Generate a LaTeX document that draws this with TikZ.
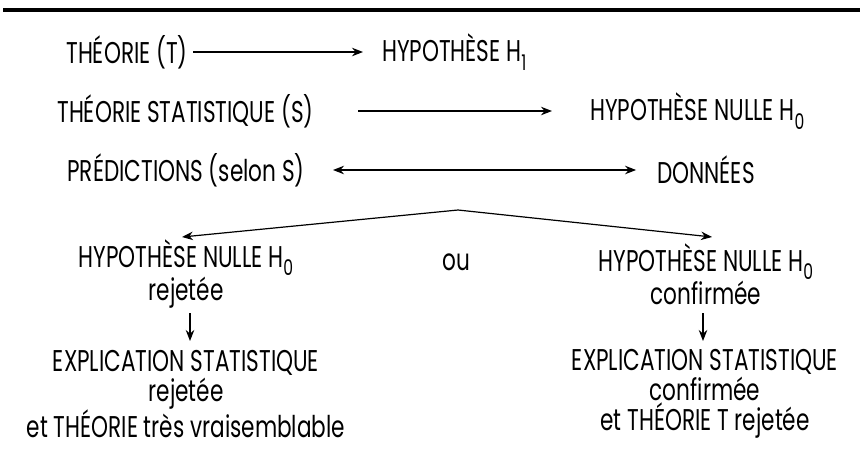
\documentclass[tikz,border=0pt]{standalone}
\usepackage{fontspec}
\setmainfont[FakeStretch=0.72]{Poppins}
\usetikzlibrary{arrows.meta}
\newcommand\lowidx[1]{\raisebox{-0.28em}{\scalebox{0.72}{#1}}}
\begin{document}
\begin{tikzpicture}[x=1pt,y=-1pt,
  lbl/.style={inner sep=0pt,align=center,font=\fontsize{30}{30}\selectfont},
  pair/.style={lbl,font=\fontsize{30}{28}\selectfont},
  link/.style={line width=1.2pt,-{Stealth[length=11pt,width=8.5pt]}},
  link2/.style={line width=1.2pt,{Stealth[length=11pt,width=8.5pt]}-{Stealth[length=11pt,width=8.5pt]}}]
\useasboundingbox (0,0) rectangle (860,456);
% rule along the top
\draw[line width=3.5pt] (3,10) -- (860,10);

% first three rows
\node[lbl] (t)  at (127,52) {THÉORIE (T)};
\node[lbl,anchor=west] (h1) at (382,52) {HYPOTHÈSE H\lowidx{1}};
\node[lbl] (s)  at (185.5,111) {THÉORIE STATISTIQUE (S)};
\node[lbl,anchor=west] (h0) at (590,111) {HYPOTHÈSE NULLE H\lowidx{0}};
\node[lbl] (p)  at (186,170) {PRÉDICTIONS (selon S)};
\node[lbl] (d)  at (706,170) {DONNÉES};

\draw[link] (t.east -| 193,0) -- ([xshift=-19pt]h1.west);
\draw[link] (s.east -| 358,0) -- ([xshift=-38pt]h0.west);
\draw[link2] (p.east -| 333,0) -- ([xshift=-21pt]d.west);

% the two outcomes
\coordinate (fork) at (458,210);
\coordinate (tipl) at (182,237);
\coordinate (tipr) at (712,237);
\draw[link] (fork) -- (tipl);
\draw[link] (fork) -- (tipr);

\node[pair] (rej) at (186,274) {HYPOTHÈSE NULLE H\lowidx{0}\\rejetée};
\node[lbl] (ou)  at (456,262) {ou};
\node[pair] (conf) at (706,274) {HYPOTHÈSE NULLE H\lowidx{0}\\confirmée};

\node[lbl] (er) at (186,394) {EXPLICATION STATISTIQUE\\rejetée\\et THÉORIE très vraisemblable};
\node[lbl] (ec) at (705,394) {EXPLICATION STATISTIQUE\\confirmée\\et THÉORIE T rejetée};

% consequences
\coordinate (dl1) at (190,313);
\coordinate (dl2) at (190,341);
\coordinate (dr1) at (703,313);
\coordinate (dr2) at (703,341);
\draw[link] (dl1) -- (dl2);
\draw[link] (dr1) -- (dr2);
\end{tikzpicture}
\end{document}
